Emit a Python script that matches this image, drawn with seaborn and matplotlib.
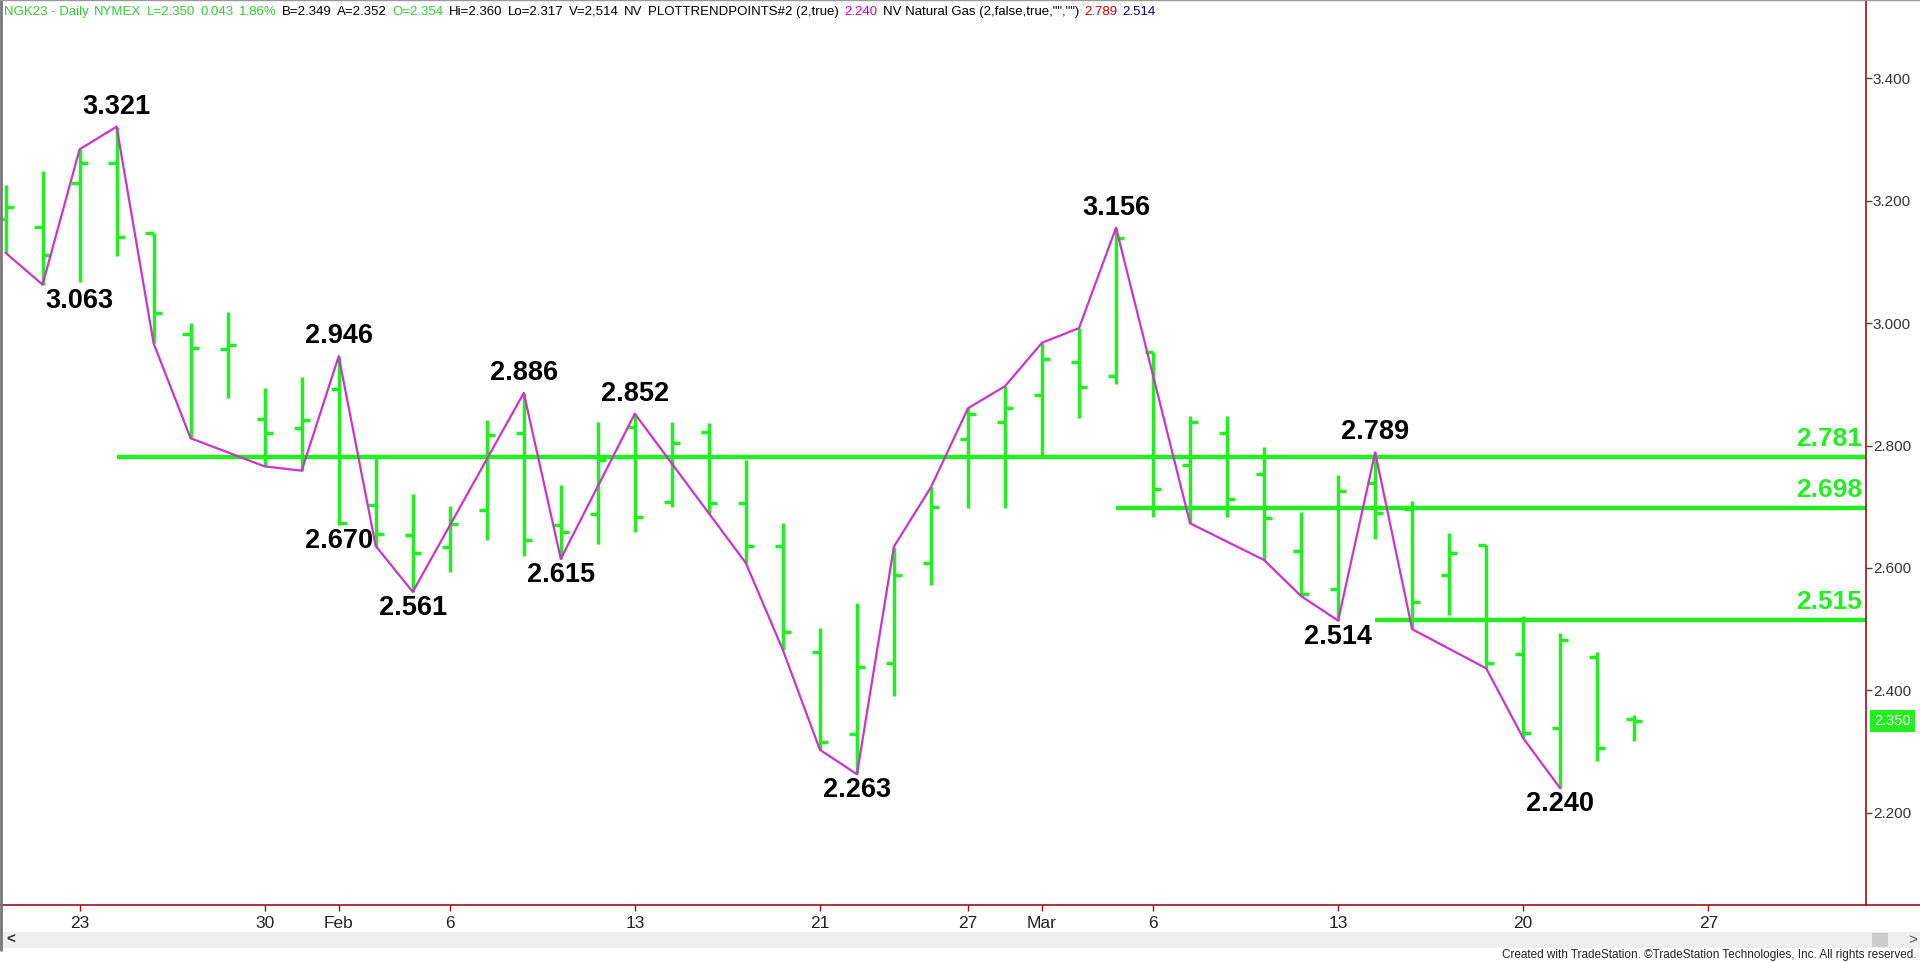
import numpy as np
import pandas as pd
import seaborn as sns
import matplotlib.pyplot as plt
from matplotlib.lines import Line2D
from matplotlib.patches import Rectangle

sns.set_style('white')
plt.rcParams['font.family'] = ['Liberation Sans', 'DejaVu Sans']

###----- Data (NGK23 daily bars, trading day index 0 = Jan 19) -----###
bar_idx = list(range(45))
opens = [3.170, 3.157, 3.229, 3.261, 3.147, 2.983, 2.957, 2.843, 2.828, 2.892,
         2.703, 2.654, 2.634, 2.695, 2.820, 2.670, 2.689, 2.831, 2.708, 2.823,
         2.707, 2.636, 2.462, 2.329, 2.444, 2.608, 2.810, 2.839, 2.882, 2.936,
         2.914, 2.953, 2.768, 2.820, 2.753, 2.628, 2.565, 2.739, 2.696, 2.589,
         2.638, 2.460, 2.338, 2.454, 2.354]
highs = [3.226, 3.248, 3.284, 3.321, 3.147, 3.000, 3.019, 2.894, 2.912, 2.946,
         2.779, 2.721, 2.701, 2.842, 2.886, 2.736, 2.839, 2.852, 2.839, 2.837,
         2.777, 2.674, 2.502, 2.543, 2.635, 2.732, 2.861, 2.897, 2.968, 2.992,
         3.156, 2.953, 2.848, 2.848, 2.797, 2.691, 2.752, 2.789, 2.710, 2.657,
         2.638, 2.521, 2.493, 2.462, 2.360]
lows = [3.115, 3.063, 3.068, 3.109, 2.967, 2.812, 2.877, 2.766, 2.759, 2.670,
        2.636, 2.561, 2.594, 2.646, 2.620, 2.615, 2.640, 2.659, 2.699, 2.689,
        2.608, 2.466, 2.303, 2.263, 2.391, 2.572, 2.698, 2.698, 2.782, 2.845,
        2.900, 2.684, 2.673, 2.684, 2.613, 2.554, 2.514, 2.647, 2.500, 2.524,
        2.436, 2.322, 2.240, 2.284, 2.317]
closes = [3.189, 3.111, 3.261, 3.140, 3.016, 2.959, 2.964, 2.820, 2.842, 2.673,
          2.656, 2.624, 2.672, 2.817, 2.646, 2.659, 2.776, 2.683, 2.804, 2.707,
          2.636, 2.495, 2.315, 2.439, 2.589, 2.699, 2.851, 2.861, 2.941, 2.896,
          3.139, 2.729, 2.838, 2.712, 2.681, 2.557, 2.725, 2.690, 2.544, 2.624,
          2.444, 2.330, 2.483, 2.306, 2.350]

# zigzag trend points
trend_idx = [0, 1, 2, 3, 4, 5, 7, 8, 9, 10, 11, 14, 15, 17, 20, 21, 22, 23, 24, 25,
             26, 27, 28, 29, 30, 32, 34, 35, 36, 37, 38, 40, 41, 42]
trend_val = [3.115, 3.063, 3.284, 3.321, 2.967, 2.812, 2.766, 2.759, 2.946, 2.636,
             2.561, 2.886, 2.615, 2.852, 2.608, 2.466, 2.303, 2.263, 2.635, 2.732,
             2.861, 2.897, 2.968, 2.992, 3.156, 2.673, 2.613, 2.554, 2.514, 2.789,
             2.500, 2.436, 2.322, 2.240]

# swing labels
swing_idx = [3, 1, 9, 9, 11, 14, 15, 17, 23, 30, 37, 36, 42]
swing_val = [3.321, 3.063, 2.946, 2.670, 2.561, 2.886, 2.615, 2.852, 2.263, 3.156,
             2.789, 2.514, 2.240]
swing_side = ['H', 'L', 'H', 'L', 'L', 'H', 'L', 'H', 'L', 'H', 'H', 'L', 'L']

# horizontal levels (start bar, price)
level_start = [3, 30, 37]
level_val = [2.781, 2.698, 2.515]

tick_idx = [2, 7, 9, 12, 17, 22, 26, 28, 31, 36, 41, 46]
tick_lbl = ['23', '30', 'Feb', '6', '13', '21', '27', 'Mar', '6', '13', '20', '27']
price_ticks = [2.2, 2.4, 2.6, 2.8, 3.0, 3.2, 3.4]
last_price = 2.350

header_tokens = ['NGK23 - Daily', 'NYMEX', 'L=2.350', '0.043', '1.86%', 'B=2.349', 'A=2.352',
                 'O=2.354', 'Hi=2.360', 'Lo=2.317', 'V=2,514', 'NV', 'PLOTTRENDPOINTS#2 (2,true)',
                 '2.240', 'NV Natural Gas (2,false,true,"","")', '2.789', '2.514']
header_colors = ['#33cc33'] * 5 + ['black', 'black', '#33cc33'] + ['black'] * 5 + \
                ['#cc00cc', 'black', '#cc0000', '#000099']

df = pd.DataFrame({'idx': bar_idx, 'open': opens, 'high': highs, 'low': lows, 'close': closes})
df_trend = pd.DataFrame({'idx': trend_idx, 'val': trend_val})

###----- Plot -----###
W, H = 1920, 963
green = '#22ee22'
magenta = '#cc33cc'
axis_red = '#a01010'

fig = plt.figure(figsize=(W / 100, H / 100), dpi=100)
ax = fig.add_axes([0.0, 58 / H, 1866 / W, 1 - 58 / H])
ax.set_xlim(-0.15, 50.26)
ax.set_ylim(2.0494, 3.528)

# OHLC bars
ax.vlines(df['idx'], df['low'], df['high'], color=green, lw=2.5, zorder=3)
ax.hlines(df['open'], df['idx'] - 0.22, df['idx'], color=green, lw=2.5, zorder=3)
ax.hlines(df['close'], df['idx'], df['idx'] + 0.22, color=green, lw=2.5, zorder=3)

# levels
for s, v in zip(level_start, level_val):
    ax.hlines(v, s, 50.26, color=green, lw=3.2, zorder=2)
    ax.annotate(f'{v:.3f}', xy=(1, v), xycoords=('axes fraction', 'data'),
                xytext=(-4, 18), textcoords='offset pixels', ha='right', va='center',
                fontsize=19, fontweight='bold', color=green)

# zigzag
sns.lineplot(data=df_trend, x='idx', y='val', sort=False, estimator=None,
             color=magenta, lw=1.6, ax=ax, zorder=4)

# swing labels
for i, v, s in zip(swing_idx, swing_val, swing_side):
    lx = i + 1 if (s == 'L' and v == 3.063) else i
    dy = 20 if s == 'H' else -16
    ax.annotate(f'{v:.3f}', xy=(lx, v), xytext=(0, dy), textcoords='offset pixels',
                ha='center', va='center', fontsize=19.5, fontweight='bold', color='black', zorder=5)

# axes styling
for sp in ['top', 'left', 'bottom']:
    ax.spines[sp].set_visible(False)
ax.spines['right'].set_color(axis_red)
ax.spines['right'].set_linewidth(1.2)
ax.set_xlabel('')
ax.set_ylabel('')
ax.yaxis.tick_right()
ax.set_yticks(price_ticks)
ax.set_yticklabels([f'{p:.3f}' for p in price_ticks])
ax.tick_params(axis='y', right=True, length=4, width=1, color='#444444', pad=1,
               labelsize=11, labelcolor='#333333')
ax.set_xticks(tick_idx)
ax.set_xticklabels(tick_lbl)
ax.tick_params(axis='x', bottom=True, length=4, width=1, color=axis_red, pad=4,
               labelsize=12.5, labelcolor='#222222')
ax.grid(False)

# last price box
ax.annotate(f'{last_price:.3f}', xy=(1, last_price), xycoords=('axes fraction', 'data'),
            xytext=(8, 0), textcoords='offset pixels', ha='left', va='center',
            fontsize=10.5, color='white',
            bbox=dict(boxstyle='square,pad=0.3', fc=green, ec='none'))

# time axis line across full width, borders
fig.add_artist(Line2D([0, 1], [58 / H, 58 / H], color=axis_red, lw=1.2))
fig.add_artist(Line2D([1 / W, 1 / W], [13 / H, 1], color='#777777', lw=2))
fig.add_artist(Line2D([0, 1], [1 - 0.5 / H, 1 - 0.5 / H], color='#999999', lw=1))

# scroll bar
fig.add_artist(Rectangle((0, 15 / H), 1, 16 / H, fc='#efefef', ec='none'))
fig.add_artist(Rectangle((1872 / W, 16 / H), 16 / W, 14 / H, fc='#cdcdcd', ec='none'))
fig.text(6 / W, 23 / H, '<', fontsize=11, fontweight='bold', va='center', ha='left', color='#333333')
fig.text(1908 / W, 23 / H, '>', fontsize=11, va='center', ha='left', color='#555555')
fig.text(1916 / W, 8 / H,
         'Created with TradeStation. \u00a9TradeStation Technologies, Inc. All rights reserved.',
         fontsize=8.5, ha='right', va='center', color='#222222')

# header: tokens laid out one after another, gaps spread to end near x=1158
renderer = fig.canvas.get_renderer()
texts = [fig.text(0, 1 - 15 / H, s, fontsize=9.5, color=c, ha='left', va='baseline')
         for s, c in zip(header_tokens, header_colors)]
widths = [t.get_window_extent(renderer).width for t in texts]
gap = (1156 - 4 - sum(widths)) / (len(texts) - 1)
x = 4
for t, w in zip(texts, widths):
    t.set_x(x / W)
    x += w + gap

plt.savefig('out.png', dpi=100)
